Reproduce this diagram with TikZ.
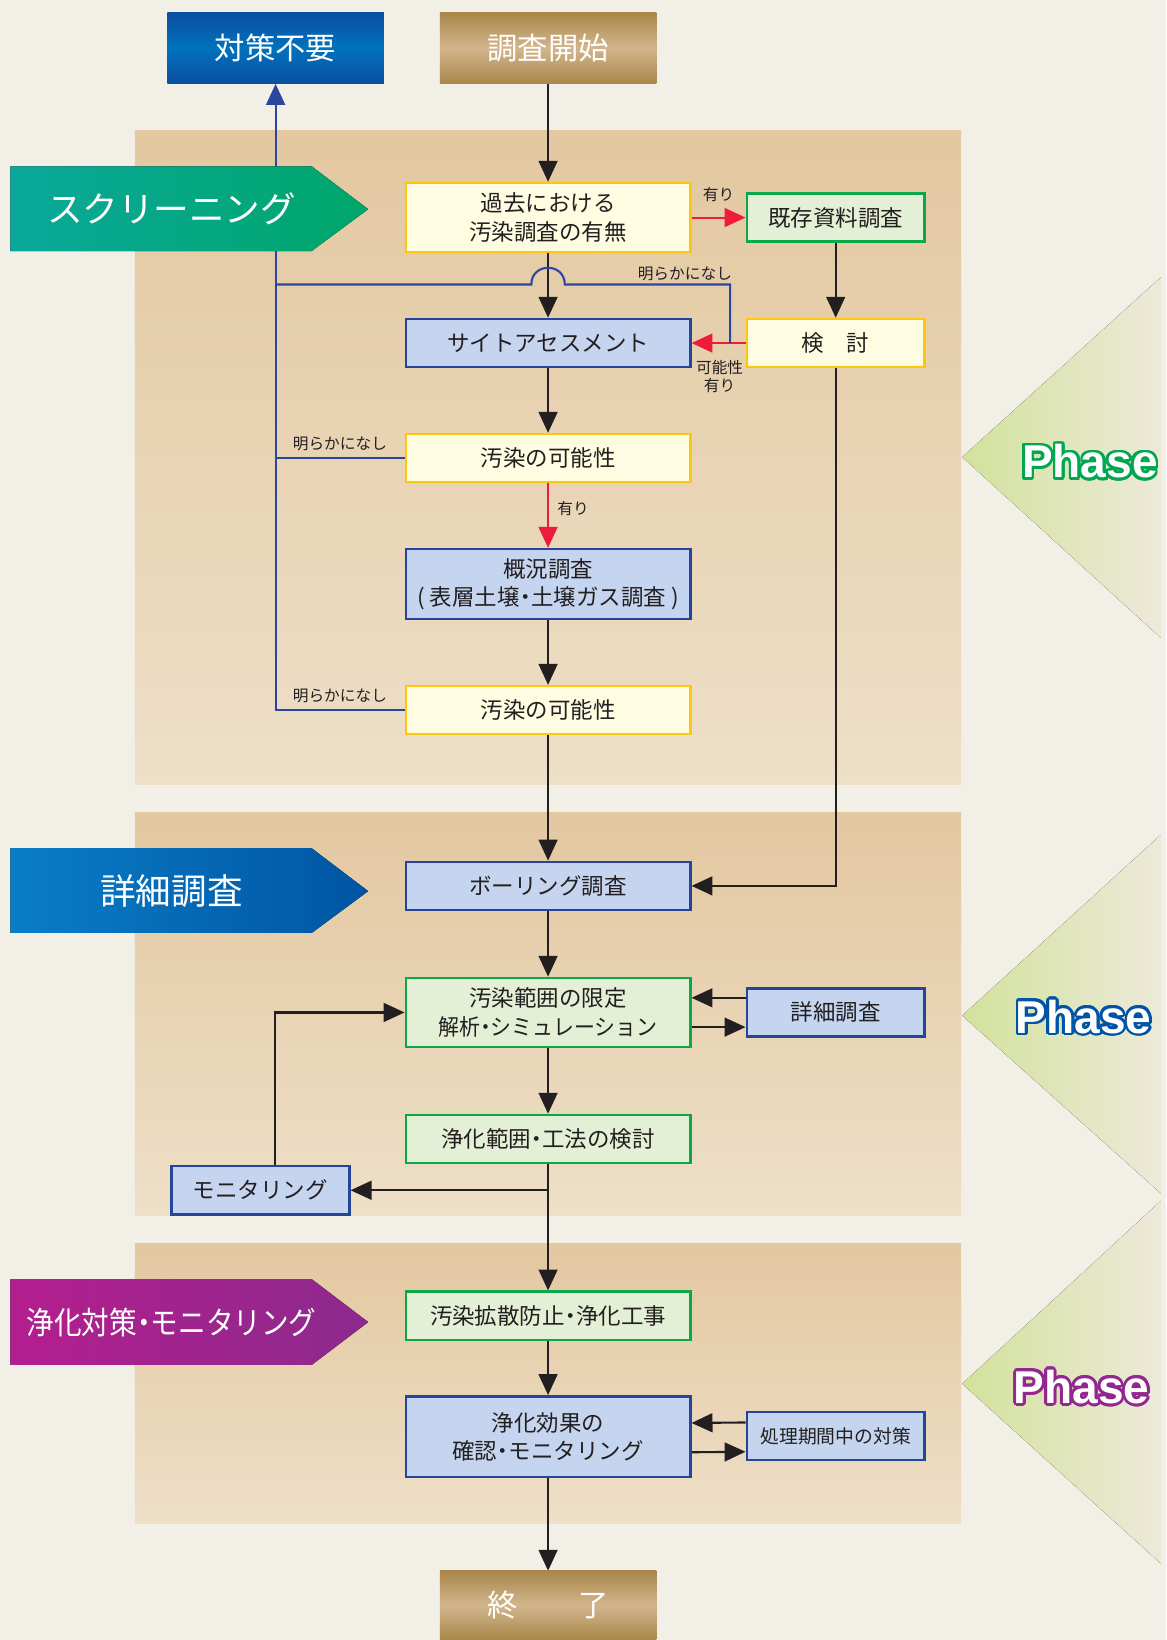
\documentclass[tikz,border=0pt]{standalone}
\usepackage{fontspec}
\usepackage{graphicx}
\setmainfont{Noto Sans CJK JP}
\newfontfamily\phasefont{Liberation Sans}
\usetikzlibrary{arrows.meta,calc}
\definecolor{bgc}{HTML}{F2EFE6}
\definecolor{paneltop}{HTML}{E3C8A0}
\definecolor{panelbot}{HTML}{EEDFC8}
\definecolor{ylfill}{HTML}{FFFDE1}
\definecolor{yldraw}{HTML}{FDC70F}
\definecolor{grfill}{HTML}{E4F0D5}
\definecolor{grdraw}{HTML}{0BA84A}
\definecolor{blfill}{HTML}{C6D5EF}
\definecolor{bldraw}{HTML}{26449A}
\definecolor{redc}{HTML}{ED1C3A}
\definecolor{navyc}{HTML}{2B46A0}
\definecolor{blackc}{HTML}{231F20}
\definecolor{tridark}{HTML}{D2E29C}
\definecolor{trilight}{HTML}{EDE9DA}
\definecolor{bluedark}{HTML}{0B4EA2}
\definecolor{bluemid}{HTML}{0072BC}
\definecolor{browndark}{HTML}{A8874A}
\definecolor{brownmid}{HTML}{D3B58D}
\definecolor{tealL}{HTML}{0AA89B}
\definecolor{tealR}{HTML}{00A66A}
\definecolor{bnblueL}{HTML}{0A7DC7}
\definecolor{bnblueR}{HTML}{0055A3}
\definecolor{magL}{HTML}{B41E8E}
\definecolor{magR}{HTML}{8C2A8D}
\definecolor{phgreen}{HTML}{00A650}
\definecolor{phblue}{HTML}{0054A6}
\definecolor{phpurple}{HTML}{92278F}
\newcommand\ndot{\kern-.25em・\kern-.25em}
\pgfdeclarelayer{back}
\pgfdeclarelayer{lines}
\pgfsetlayers{back,lines,main}
\begin{document}
\begin{tikzpicture}[x=1pt,y=-1pt,
  box/.style={draw, line width=2.4pt, minimum width=272pt, minimum height=46pt, inner sep=0pt, align=center, text=blackc, font=\fontsize{21.5}{27}\selectfont},
  ybox/.style={box, fill=ylfill, draw=yldraw},
  gbox/.style={box, fill=grfill, draw=grdraw},
  bbox/.style={box, fill=blfill, draw=bldraw},
  narrow/.style={minimum width=170pt},
  titlebox/.style={minimum width=207pt, minimum height=68pt, inner sep=0pt, text=white, font=\fontsize{29}{32}\selectfont},
  conn/.style={draw=blackc, line width=2pt, -{Triangle[length=20pt,width=18pt]}},
  redconn/.style={draw=redc, line width=2pt, -{Triangle[length=20pt,width=18pt]}},
  blueline/.style={draw=navyc, line width=2pt},
  lbl/.style={text=blackc, font=\fontsize{15}{17}\selectfont, inner sep=0pt, align=center},
  bannertext/.style={text=white, inner sep=0pt},
  phasetxt/.style={font=\phasefont\fontsize{44}{48}\selectfont\bfseries, inner sep=0pt},
]
\useasboundingbox (0,0) rectangle (1115,1568);
\begin{pgfonlayer}{back}
\fill[bgc] (0,0) rectangle (1115,1568);
\fill[top color=paneltop, bottom color=panelbot] (129,125) rectangle (919,750);
\fill[top color=paneltop, bottom color=panelbot] (129,777) rectangle (919,1162);
\fill[top color=paneltop, bottom color=panelbot] (129,1189) rectangle (919,1457);
\fill[left color=tridark, right color=trilight] (920,437) -- (1110,265) -- (1110,610) -- cycle;
\fill[left color=tridark, right color=trilight] (920,971) -- (1110,798) -- (1110,1141) -- cycle;
\fill[left color=tridark, right color=trilight] (920,1323) -- (1110,1148) -- (1110,1495) -- cycle;
\foreach \a in {0,20,...,340} {
  \node[phasetxt, text=phgreen] (pha\a) at ($(1042,441)+(\a:2.6)$) {Phase};
  \node[phasetxt, text=phblue] (phb\a) at ($(1036,972)+(\a:2.6)$) {Phase};
  \node[phasetxt, text=phpurple] (phc\a) at ($(1034,1326)+(\a:2.6)$) {Phase};
}
\node[phasetxt, text=white] (phase1) at (1042,441) {Phase};
\node[phasetxt, text=white] (phase2) at (1036,972) {Phase};
\node[phasetxt, text=white] (phase3) at (1034,1326) {Phase};
\end{pgfonlayer}

% title boxes
\node[titlebox, top color=bluedark, bottom color=bluedark, middle color=bluemid] (fuyo) at (263.5,46) {対策不要};
\node[titlebox, top color=browndark, bottom color=browndark, middle color=brownmid] (kaishi) at (524,46) {調査開始};
\node[titlebox, minimum height=66pt, top color=browndark, bottom color=browndark, middle color=brownmid] (owari) at (524,1535) {終\hspace{2em}了};

% banners
\fill[left color=tealL, right color=tealR] (10,159) -- (298,159) -- (352,200) -- (298,240) -- (10,240) -- cycle;
\node[bannertext, font=\fontsize{34}{36}\selectfont] (scr) at (164,200) {スクリーニング};
\fill[left color=bnblueL, right color=bnblueR] (10,811) -- (298,811) -- (352,852) -- (298,892) -- (10,892) -- cycle;
\node[bannertext, font=\fontsize{34}{36}\selectfont] (det) at (164,852) {詳細調査};
\fill[left color=magL, right color=magR] (10,1223) -- (298,1223) -- (352,1264) -- (298,1305) -- (10,1305) -- cycle;
\node[bannertext, font=\fontsize{30}{32}\selectfont] (jok) at (164,1264) {\scalebox{0.88}[1]{浄化対策\ndot モニタリング}};

% boxes
\node[ybox, minimum height=66pt] (kako) at (524,208) {過去における\\汚染調査の有無};
\node[gbox, narrow] (kizon) at (799,208) {既存資料調査};
\node[bbox] (site) at (524,328) {サイトアセスメント};
\node[ybox, narrow] (ken) at (799,328) {検\hspace{1em}討};
\node[ybox] (kano1) at (524,438) {汚染の可能性};
\node[bbox, minimum height=67pt] (gaikyo) at (524,558.5) {概況調査\\( 表層土壌\ndot 土壌ガス調査 )};
\node[ybox] (kano2) at (524,679) {汚染の可能性};
\node[bbox] (boring) at (524,847) {ボーリング調査};
\node[gbox, minimum height=66pt] (hani) at (524,968) {汚染範囲の限定\\\scalebox{0.93}[1]{解析\ndot シミュレーション}};
\node[bbox, narrow] (syosai) at (799,968) {詳細調査};
\node[gbox] (kento) at (524,1089) {浄化範囲\ndot 工法の検討};
\node[bbox, narrow] (moni) at (249,1138) {モニタリング};
\node[gbox] (kakusan) at (524,1258) {汚染拡散防止\ndot 浄化工事};
\node[bbox, minimum height=77pt] (kouka) at (524,1373.5) {浄化効果の\\確認\ndot モニタリング};
\node[bbox, narrow, font=\fontsize{18}{22}\selectfont] (shori) at (799,1373) {処理期間中の対策};

% labels
\node[lbl] (l1) at (687,186) {有り};
\node[lbl, font=\fontsize{15}{17}\selectfont] (l2) at (688,360) {可能性\\有り};
\node[lbl, anchor=east] (l3) at (700,262) {明らかになし};
\node[lbl] (l4) at (325,424) {明らかになし};
\node[lbl] (l5) at (548,486) {有り};
\node[lbl] (l6) at (325,665) {明らかになし};

\coordinate (bj) at (698,328);
\coordinate (hopR) at (540,272);
\coordinate (hopL) at (508,272);

\begin{pgfonlayer}{lines}
\draw[conn] (kaishi) -- (kako);
\draw[redconn] (kako) -- (kizon);
\draw[conn] (kizon) -- (ken);
\draw[conn] (kako) -- (site);
\draw[redconn] (ken) -- (site);
\draw[blueline] (bj) |- (hopR) .. controls (540,250.7) and (508,250.7) .. (hopL) -- (hopL -| fuyo.south);
\draw[conn] (site) -- (kano1);
\draw[blueline] (kano1.west) -- (kano1.west -| fuyo.south);
\draw[redconn] (kano1) -- (gaikyo);
\draw[conn] (gaikyo) -- (kano2);
\draw[blueline, -{Triangle[length=20pt,width=18pt]}] (kano2.west) -| (fuyo.south);
\draw[conn] (kano2) -- (boring);
\draw[conn] (ken) |- (boring);
\draw[conn] (boring) -- (hani);
\draw[conn] ($(syosai.west)+(0,-14)$) -- ($(hani.east)+(0,-14)$);
\draw[conn] ($(hani.east)+(0,14)$) -- ($(syosai.west)+(0,14)$);
\draw[conn] (hani) -- (kento);
\draw[conn] (kento) -- (kakusan);
\draw[conn] (kento.south |- moni.east) -- (moni.east);
\draw[conn] ($(moni.north)+(14,0)$) |- (hani.west);
\draw[conn] (kakusan) -- (kouka);
\draw[conn] ($(shori.west)+(0,-13)$) -- ($(kouka.east)+(0,-13)$);
\draw[conn] ($(kouka.east)+(0,15)$) -- ($(shori.west)+(0,15)$);
\draw[conn] (kouka) -- (owari);
\end{pgfonlayer}
\end{tikzpicture}
\end{document}
